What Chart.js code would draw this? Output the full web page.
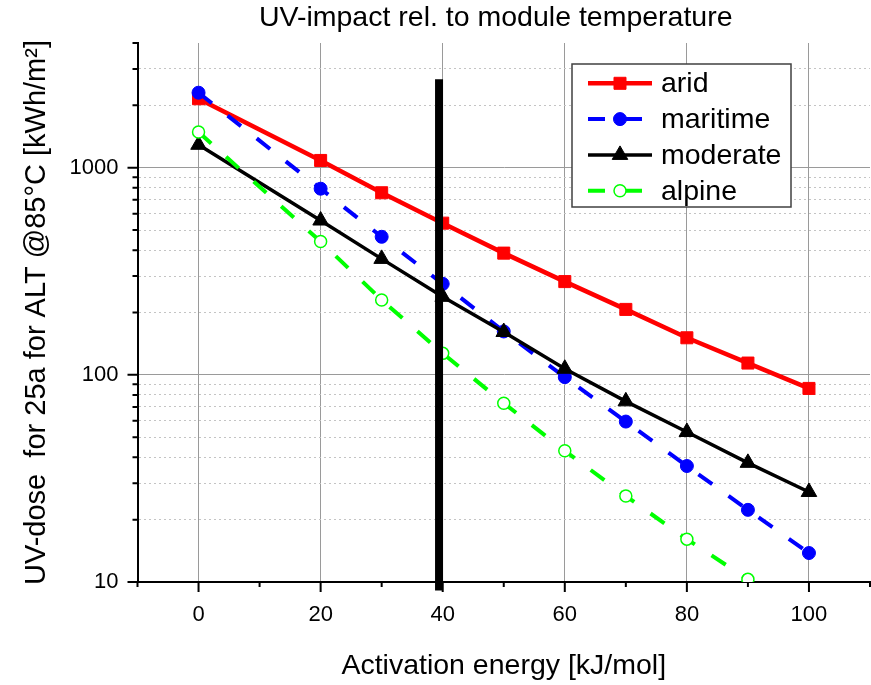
<!DOCTYPE html>
<html>
<head>
<meta charset="utf-8">
<script src="https://cdn.jsdelivr.net/npm/chart.js@4.4.1/dist/chart.umd.min.js"></script>
<style>
html,body{margin:0;padding:0;background:#fff;}
#wrap{width:871px;height:685px;}
canvas{display:block;}
</style>
</head>
<body>
<div id="wrap"><canvas id="c" width="871" height="685"></canvas></div>
<script>
// ---------- data ----------
const energies = [0, 20, 30, 40, 50, 60, 70, 80, 90, 100];
const arid     = [2153, 1084, 757, 540, 387, 282, 207, 151, 114, 86];
const maritime = [2302, 792, 464, 275, 162, 97.5, 59.5, 36.3, 22.3, 13.8];
const moderate = [1290, 556, 363, 238, 161, 107, 74.5, 53, 37.6, 27.2];
const alpine   = [1486, 440, 230, 127, 73, 43, 26, 16.1, 10.3];
const seriesNames = ['arid', 'maritime', 'moderate', 'alpine'];
const markerLineX = [39.4, 39.4];
const markerLineY = [9.1, 2670];
const xTicks  = [-10, 0, 10, 20, 30, 40, 50, 60, 70, 80, 90, 100, 110];
const xLabels = [0, 20, 40, 60, 80, 100];
const yTicks  = [10, 20, 30, 40, 50, 60, 70, 80, 90, 100, 200, 300, 400, 500, 600, 700, 800, 900, 1000, 2000, 3000, 4000];
const yLabels = [10, 100, 1000];
const chartTitle = 'UV-impact rel. to module temperature';
const xTitle = 'Activation energy [kJ/mol]';
const yTitle = 'UV-dose  for 25a for ALT @85°C [kWh/m²]';

const FONT = '"Liberation Sans", Arial, Helvetica, sans-serif';
const pts = (xs, ys) => ys.map((v, i) => ({x: xs[i], y: v}));

// ---------- plugins ----------
const tickMarks = {
  id: 'tickMarks',
  afterDraw(chart) {
    const {ctx, chartArea: ca, scales: {x, y}} = chart;
    ctx.save();
    ctx.strokeStyle = '#000';
    ctx.lineWidth = 2;
    ctx.beginPath();
    xTicks.forEach(v => {
      const px = x.getPixelForValue(v);
      const len = xLabels.includes(v) ? 10 : 5;
      ctx.moveTo(px, ca.bottom);
      ctx.lineTo(px, ca.bottom + len);
    });
    yTicks.forEach(v => {
      const py = y.getPixelForValue(v);
      const len = yLabels.includes(v) ? 10 : 5;
      ctx.moveTo(ca.left, py);
      ctx.lineTo(ca.left - len, py);
    });
    ctx.stroke();
    ctx.restore();
  }
};

// the original title sits slightly left of the plot-area centre
const titleShift = {
  id: 'titleShift',
  afterLayout(chart) {
    const tb = chart.titleBlock;
    if (tb) { tb.left -= 16; tb.right -= 0; }
  }
};

function marker(ctx, style, r, x, y) {
  if (window.Chart && Chart.helpers && Chart.helpers.drawPoint) {
    Chart.helpers.drawPoint(ctx, {pointStyle: style, radius: r, rotation: 0, borderWidth: ctx.lineWidth}, x, y);
    return;
  }
  ctx.beginPath();
  if (style === 'rect') { const s = r * Math.SQRT1_2; ctx.rect(x - s, y - s, 2 * s, 2 * s); }
  else if (style === 'triangle') {
    let a = 0;
    ctx.moveTo(x + Math.sin(a) * r, y - Math.cos(a) * r); a += 2 * Math.PI / 3;
    ctx.lineTo(x + Math.sin(a) * r, y - Math.cos(a) * r); a += 2 * Math.PI / 3;
    ctx.lineTo(x + Math.sin(a) * r, y - Math.cos(a) * r); ctx.closePath();
  } else ctx.arc(x, y, r, 0, Math.PI * 2);
  ctx.fill(); ctx.stroke();
}

const boxLegend = {
  id: 'boxLegend',
  afterDraw(chart) {
    const ctx = chart.ctx;
    const bx = 572, by = 64, bw = 219, bh = 143;
    ctx.save();
    ctx.fillStyle = '#fff';
    ctx.fillRect(bx, by, bw, bh);
    ctx.strokeStyle = '#404040';
    ctx.lineWidth = 1.5;
    ctx.setLineDash([]);
    ctx.strokeRect(bx, by, bw, bh);
    seriesNames.forEach((name, i) => {
      const ds = chart.data.datasets[i];
      const yy = 83.3 + i * 35.8;
      ctx.save();
      ctx.strokeStyle = ds.borderColor;
      ctx.lineWidth = ds.borderWidth;
      ctx.setLineDash(ds.borderDash || []);
      ctx.beginPath();
      ctx.moveTo(588, yy);
      ctx.lineTo(652, yy);
      ctx.stroke();
      ctx.setLineDash([]);
      ctx.fillStyle = ds.pointBackgroundColor;
      ctx.strokeStyle = ds.pointBorderColor;
      ctx.lineWidth = ds.pointBorderWidth;
      marker(ctx, ds.pointStyle, ds.pointRadius, 620, yy);
      ctx.restore();
      ctx.fillStyle = '#000';
      ctx.font = '28.5px ' + FONT;
      ctx.textBaseline = 'middle';
      ctx.textAlign = 'left';
      ctx.fillText(name, 661, yy + 1);
    });
    ctx.restore();
  }
};

// ---------- chart ----------
new Chart(document.getElementById('c'), {
  type: 'line',
  data: {
    datasets: [
      {
        label: seriesNames[0], data: pts(energies, arid), order: 4,
        borderColor: '#ff0000', borderWidth: 4.5,
        pointStyle: 'rect', pointRadius: 8.5, pointBackgroundColor: '#ff0000',
        pointBorderColor: '#ff0000', pointBorderWidth: 1
      },
      {
        label: seriesNames[1], data: pts(energies, maritime), order: 3,
        borderColor: '#0000ff', borderWidth: 4, borderDash: [17, 20],
        pointStyle: 'circle', pointRadius: 6.5, pointBackgroundColor: '#0000ff',
        pointBorderColor: '#0000ff', pointBorderWidth: 1
      },
      {
        label: seriesNames[2], data: pts(energies, moderate), order: 2,
        borderColor: '#000000', borderWidth: 3.5,
        pointStyle: 'triangle', pointRadius: 9, pointBackgroundColor: '#000000',
        pointBorderColor: '#000000', pointBorderWidth: 1
      },
      {
        label: seriesNames[3], data: pts(energies, alpine), order: 1,
        borderColor: '#00ff00', borderWidth: 4, borderDash: [17, 20],
        pointStyle: 'circle', pointRadius: 6, pointBackgroundColor: '#ffffff',
        pointBorderColor: '#00ff00', pointBorderWidth: 1.5
      },
      {
        label: 'Ea', data: pts(markerLineX, markerLineY), order: 0,
        borderColor: '#000000', borderWidth: 8, pointRadius: 0, clip: false,
        borderCapStyle: 'butt'
      }
    ]
  },
  options: {
    responsive: false,
    animation: false,
    devicePixelRatio: 1,
    layout: {autoPadding: false, padding: {left: 0, right: 1, top: 0, bottom: 0}},
    plugins: {
      legend: {display: false},
      tooltip: {enabled: false},
      title: {
        display: true, text: chartTitle, color: '#000', fullSize: false,
        font: {family: FONT, size: 28.5, weight: 'normal'},
        padding: {top: 1.5, bottom: 7.3}
      }
    },
    scales: {
      x: {
        type: 'linear', min: -10, max: 110,
        afterBuildTicks: s => { s.ticks = xTicks.map(v => ({value: v})); },
        afterFit: s => { s.height = 103; s.paddingLeft = 0; s.paddingRight = 0; },
        ticks: {
          autoSkip: false, maxRotation: 0, padding: 0, color: '#000',
          font: {family: FONT, size: 22},
          callback: v => xLabels.includes(v) ? String(v) : ''
        },
        grid: {
          drawTicks: true, tickLength: 20, tickColor: 'rgba(0,0,0,0)', lineWidth: 1,
          color: c => (c.tick && xLabels.includes(c.tick.value)) ? '#9a9a9a' : 'rgba(0,0,0,0)'
        },
        border: {display: true, color: '#000', width: 2},
        title: {
          display: true, text: xTitle, color: '#000',
          font: {family: FONT, size: 28.5}, padding: {top: 0, bottom: 1.4}
        }
      },
      y: {
        type: 'logarithmic', min: 10, max: 4000,
        afterBuildTicks: s => { s.ticks = yTicks.map(v => ({value: v})); },
        afterFit: s => { s.width = 137.5; s.paddingTop = 0; s.paddingBottom = 0; },
        ticks: {
          autoSkip: false, padding: 0, color: '#000',
          font: {family: FONT, size: 22},
          callback: v => yLabels.includes(v) ? String(v) : ''
        },
        grid: {
          drawTicks: true, tickLength: 19, tickColor: 'rgba(0,0,0,0)', lineWidth: 1,
          color: c => {
            if (!c.tick) return 'rgba(0,0,0,0)';
            const v = c.tick.value;
            if (v === 4000 || v === 10) return 'rgba(0,0,0,0)';
            return yLabels.includes(v) ? '#9a9a9a' : '#c4c4c4';
          }
        },
        border: {
          display: true, color: '#000', width: 2,
          dash: c => (c.tick && yLabels.includes(c.tick.value)) ? [] : [2, 3]
        },
        title: {
          display: true, text: yTitle, color: '#000',
          font: {family: FONT, size: 29}, padding: {top: 20, bottom: 0}
        }
      }
    }
  },
  plugins: [tickMarks, titleShift, boxLegend]
});
</script>
</body>
</html>
